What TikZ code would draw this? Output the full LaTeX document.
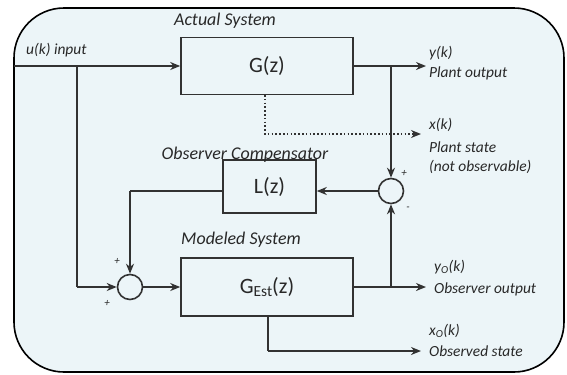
\documentclass[tikz,border=0pt]{standalone}
\usepackage{fontspec}
\setmainfont{Carlito}
\usetikzlibrary{arrows.meta,calc}
\definecolor{bgc}{RGB}{236,245,248}
\definecolor{ln}{RGB}{50,50,50}
\definecolor{tx}{RGB}{40,40,40}
\begin{document}
\begin{tikzpicture}[x=1bp,y=-1bp,
  blk/.style={draw=ln,line width=1.6bp,fill=none,inner sep=0pt,text=tx},
  sumc/.style={draw=ln,line width=1.6bp,circle,minimum size=25bp,inner sep=0pt},
  conn/.style={draw=ln,line width=2bp,-{Stealth[length=10bp,width=8bp]}},
  plain/.style={draw=ln,line width=2bp},
  lab/.style={font=\fontsize{15.5}{17}\selectfont\itshape,text=tx,anchor=west,inner sep=0pt},
  ttl/.style={font=\fontsize{18}{20}\selectfont\itshape,text=tx,inner sep=0pt},
  sgn/.style={font=\fontsize{11}{12}\selectfont\itshape,text=tx,inner sep=0pt}]
\useasboundingbox (0,0) rectangle (567,374);
\draw[black,line width=1.6bp,fill=bgc,rounded corners=50bp] (14,8) rectangle (564,372);
% blocks
\node[blk,minimum width=172bp,minimum height=57bp,font=\fontsize{22}{24}\selectfont] (G) at (267,66) {G(z)};
\node[blk,minimum width=93bp,minimum height=53bp,font=\fontsize{22}{24}\selectfont] (L) at (269.5,186.5) {L(z)};
\node[blk,minimum width=172bp,minimum height=58bp,font=\fontsize{22}{24}\selectfont] (Ge) at (267,287) {G\raisebox{-0.25ex}{\fontsize{15.5}{16}\selectfont Est}(z)};
\node[sumc] (s1) at (391,191) {};
\node[sumc] (s2) at (130,287) {};
% coordinates
\coordinate (in) at (14,66);
\coordinate (b1) at (77,66);
\coordinate (b2) at (77,287);
\coordinate (yo) at (426,66);
\coordinate (b3) at (391,66);
\coordinate (xo) at (421,134);
\coordinate (d1) at (265,95);
\coordinate (d2) at (265,134);
\coordinate (la) at (223,191);
\coordinate (lb) at (130,191);
\coordinate (yob) at (426,287);
\coordinate (b4) at (391,287);
\coordinate (c1) at (268,316);
\coordinate (c2) at (268,351);
\coordinate (xob) at (421,351);
% titles
\node[ttl] (tA) at (225,21) {Actual System};
\node[ttl] (tO) at (245,155) {Observer Compensator};
\node[ttl] (tM) at (241,240) {Modeled System};
\node[lab] (tu) at (26,50) {u(k) input};
% connectors
\draw[conn] (in) -- (G.west);
\draw[plain] (b1) -- (b2);
\draw[conn] (b2) -- (s2.west);
\draw[conn] (G.east) -- (yo);
\draw[conn] (b3) -- (s1.north);
\draw[conn] (s1.west) -- (s1.west -| L.east);
\draw[plain] (la) -- (lb);
\draw[conn] (lb) -- (s2.north);
\draw[conn] (s2.east) -- (Ge.west);
\draw[conn] (Ge.east) -- (yob);
\draw[conn] (b4) -- (s1.south);
\draw[plain] (c1) -- (c2);
\draw[conn] (c2) -- (xob);
\draw[draw=ln,line width=1.6bp,dash pattern=on 1.6bp off 2.2bp,-{Stealth[length=10bp,width=8bp]}] (d1) -- (d2) -- (xo);
% signs
\node[sgn] (p1) at (404,173) {+};
\node[sgn] (m1) at (408,209) {-};
\node[sgn] (p2) at (117,261) {+};
\node[sgn] (p3) at (107,303) {+};
% output labels
\node[lab] (l1) at (429,53) {y(k)};
\node[lab] (l2) at (429,73) {Plant output};
\node[lab] (l3) at (429,125) {x(k)};
\node[lab] (l4) at (429,147) {Plant state};
\node[lab] (l5) at (429,167) {(not observable)};
\node[lab] (l6) at (434,267) {y\textsubscript{O}(k)};
\node[lab] (l7) at (434,289) {Observer output};
\node[lab] (l8) at (429,331) {x\textsubscript{O}(k)};
\node[lab] (l9) at (429,351) {Observed state};
\end{tikzpicture}
\end{document}
